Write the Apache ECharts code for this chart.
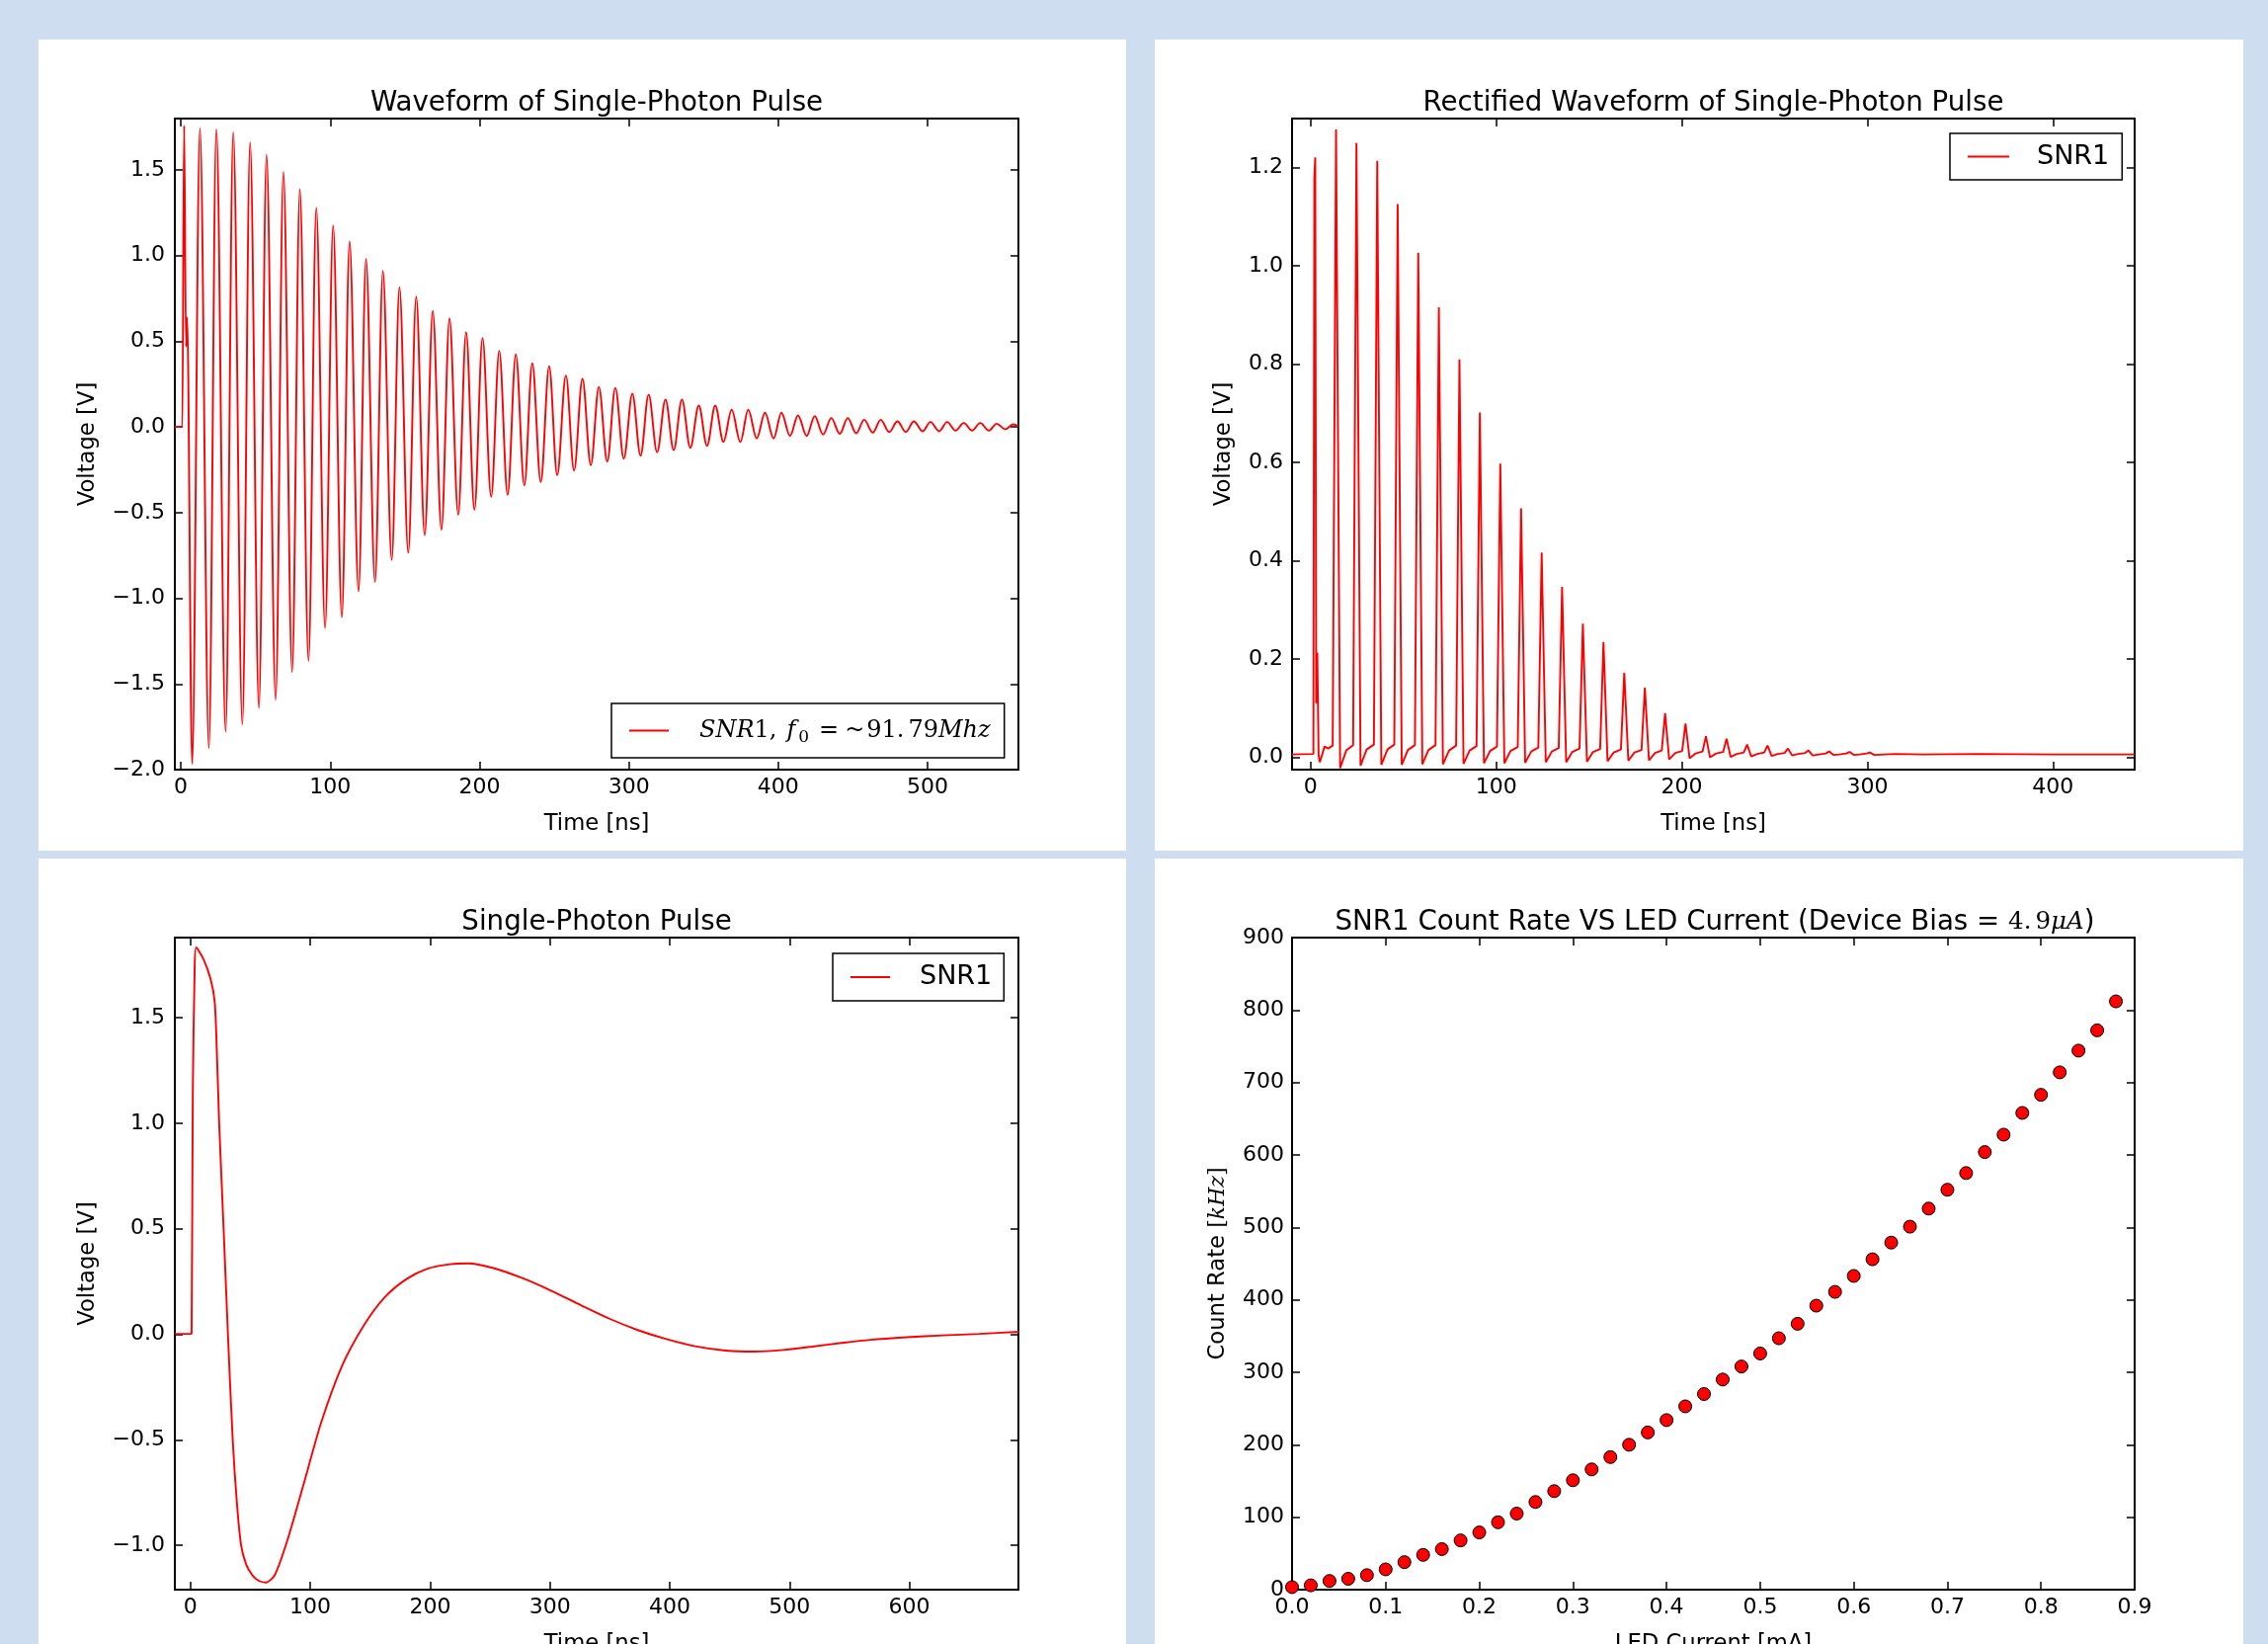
<!DOCTYPE html>
<html><head><meta charset="utf-8">
<script src="https://cdn.jsdelivr.net/npm/echarts@6/dist/echarts.min.js"></script>
<style>html,body{margin:0;padding:0;background:#cedef0;}#c{width:2296px;height:1664px;}</style>
</head><body><div id="c"></div>
<script>
// ===== Panel 1: Waveform of Single-Photon Pulse (time ns, voltage V) =====
const waveStart = [[-4,0.0],[1.0,0.0],[2.2,1.76],[3.5,0.47],[4.2,0.64]];
const wavePeaks = [[12.8,1.743],[23.8,1.739],[35.1,1.720],[46.4,1.660],[57.4,1.589],[68.7,1.487],[79.7,1.386],[90.7,1.278],[102.0,1.176],[113.0,1.084],[124.0,0.980],[135.3,0.911],[146.4,0.815],[157.6,0.761],[168.7,0.678],[179.9,0.634],[191.0,0.553],[202.0,0.519],[213.2,0.444],[224.3,0.424],[235.3,0.371],[246.6,0.355],[257.8,0.300],[268.9,0.282],[279.9,0.234],[290.9,0.228],[302.3,0.194],[313.2,0.189],[324.5,0.160],[335.5,0.160],[346.8,0.125],[357.8,0.125],[368.8,0.100],[379.9,0.100],[391.1,0.083],[402.1,0.083],[413.2,0.067],[424.4,0.063],[435.5,0.052],[446.5,0.052],[457.5,0.042],[468.6,0.042],[479.8,0.033],[490.8,0.033],[501.9,0.029],[513.1,0.029],[524.2,0.023],[535.2,0.023],[546.2,0.019],[557.3,0.015]];
const waveTroughs = [[7.6,-1.966],[18.8,-1.874],[30.0,-1.778],[41.2,-1.736],[52.3,-1.640],[63.5,-1.592],[74.5,-1.429],[85.5,-1.364],[96.6,-1.174],[107.8,-1.112],[119.0,-0.959],[130.0,-0.905],[141.2,-0.776],[152.3,-0.734],[163.3,-0.632],[174.5,-0.600],[185.7,-0.513],[196.6,-0.483],[207.8,-0.408],[218.8,-0.396],[230.0,-0.341],[241.0,-0.321],[252.0,-0.281],[263.3,-0.254],[274.5,-0.223],[285.5,-0.202],[296.6,-0.185],[307.8,-0.168],[318.9,-0.148],[330.0,-0.135],[341.1,-0.122],[352.3,-0.110],[363.3,-0.087],[374.6,-0.087],[385.6,-0.067],[396.9,-0.067],[407.9,-0.052],[419.0,-0.052],[430.0,-0.044],[441.2,-0.040],[452.2,-0.037],[463.3,-0.033],[474.3,-0.029],[485.4,-0.029],[496.7,-0.025],[507.7,-0.025],[518.7,-0.021],[529.8,-0.021],[541.0,-0.021],[552.0,-0.013]];
const waveEnd = [[560.8,0.005]];

// ===== Panel 2: Rectified Waveform =====
const rectStart = [[-10,0.006],[1.5,0.007],[2.0,1.18],[2.5,1.221],[3.0,0.11],[3.6,0.213],[4.3,0.005],[5.0,-0.010],[7.5,0.022],[9.5,0.018],[11.9,0.024]];
const rectPeaks = [[13.7,1.278],[24.7,1.250],[35.9,1.214],[46.9,1.126],[58.0,1.027],[69.1,0.916],[80.2,0.810],[91.2,0.702],[102.2,0.598],[113.4,0.507],[124.5,0.417],[135.5,0.347],[146.7,0.272],[157.8,0.235],[169.0,0.172],[180.1,0.142],[191.0,0.090],[202.0,0.069],[213.0,0.043],[224.1,0.038],[235.2,0.026],[246.2,0.024],[257.2,0.018],[268.3,0.014],[279.4,0.012],[290.4,0.011],[301.4,0.010]];
const rectDips = [[15.9,-0.022],[26.9,-0.017],[38.1,-0.015],[49.1,-0.015],[60.2,-0.014],[71.3,-0.014],[82.4,-0.013],[93.4,-0.012],[104.4,-0.012],[115.6,-0.011],[126.7,-0.010],[137.7,-0.010],[148.9,-0.009],[160.0,-0.008],[171.2,-0.007],[182.3,-0.006],[193.2,-0.004],[204.2,-0.002],[215.2,0.000],[226.3,0.001],[237.4,0.002],[248.4,0.003],[259.4,0.004],[270.5,0.004],[281.6,0.005],[292.6,0.005],[303.6,0.005]];
const rectKnees = [[19.2,0.014],[30.2,0.016],[41.4,0.016],[52.4,0.015],[63.5,0.015],[74.6,0.014],[85.7,0.014],[96.7,0.013],[107.7,0.013],[118.9,0.012],[130.0,0.012],[141.0,0.011],[152.2,0.011],[163.3,0.010],[174.5,0.010],[185.6,0.009],[196.5,0.009],[207.5,0.008],[218.5,0.008],[229.6,0.007],[240.7,0.007],[251.7,0.007],[262.7,0.007],[273.8,0.006],[284.9,0.006],[295.9,0.006]];
const rectShoulders = [[22.9,0.025],[34.1,0.026],[45.1,0.026],[56.2,0.025],[67.3,0.025],[78.4,0.024],[89.4,0.023],[100.4,0.022],[111.6,0.021],[122.7,0.020],[133.7,0.019],[144.9,0.018],[156.0,0.017],[167.2,0.016],[178.3,0.015],[189.2,0.014],[200.2,0.013],[211.2,0.012],[222.3,0.011],[233.4,0.010],[244.4,0.010],[255.4,0.009],[266.5,0.009],[277.6,0.008],[288.6,0.008],[299.6,0.008]];
const rectTail = [[315,0.007],[330,0.006],[360,0.007],[400,0.006],[444,0.006]];

// ===== Panel 3: Single-Photon Pulse =====
const pulse = [[-12.8,0.002],[0.0,0.002],[1.0,0.005],[2.0,1.15],[3.5,1.72],[4.8,1.833],[10.9,1.778],[16.9,1.682],[20.3,1.574],[22.0,1.35],[24.0,1.0],[27.7,0.5],[31.3,0.0],[35.3,-0.5],[38.8,-0.8],[42.3,-1.0],[46.5,-1.09],[51.5,-1.14],[57.0,-1.168],[63.0,-1.176],[70.5,-1.14],[81.0,-0.975],[94.0,-0.72],[109.0,-0.42],[126.5,-0.15],[144.5,0.040],[162.1,0.175],[180.3,0.262],[198.4,0.312],[216.6,0.332],[231.7,0.336],[252.9,0.314],[277.1,0.266],[301.3,0.206],[325.5,0.139],[349.7,0.074],[373.9,0.019],[398.0,-0.024],[422.3,-0.058],[446.5,-0.077],[470.7,-0.082],[494.9,-0.074],[519.0,-0.058],[543.3,-0.041],[567.5,-0.026],[597.7,-0.014],[628.0,-0.005],[658.2,0.002],[691.5,0.012]];

// ===== Panel 4: Count rate vs LED current =====
const ledCurrent = [0.00,0.02,0.04,0.06,0.08,0.10,0.12,0.14,0.16,0.18,0.20,0.22,0.24,0.26,0.28,0.30,0.32,0.34,0.36,0.38,0.40,0.42,0.44,0.46,0.48,0.50,0.52,0.54,0.56,0.58,0.60,0.62,0.64,0.66,0.68,0.70,0.72,0.74,0.76,0.78,0.80,0.82,0.84,0.86,0.88];
const countRate = [3.5,6,12,15,20,28,38,48,56,68,79,93,105,121,136,151,166,183,200,217,234,253,270,290,308,326,347,367,392,411,433,456,479,501,526,552,575,604,628,658,683,714,744,772,812];

// ===== Text =====
const titles = ['Waveform of Single-Photon Pulse','Rectified Waveform of Single-Photon Pulse','Single-Photon Pulse'];
const xNames = ['Time [ns]','Time [ns]','Time [ns]','LED Current [mA]'];

const FONT = "'DejaVu Sans', sans-serif";
const MATH = "'DejaVu Serif', serif";
const sortT = (a,b)=>a[0]-b[0];
const wave = waveStart.concat(wavePeaks, waveTroughs, waveEnd).sort(sortT);
const rect = rectStart.concat(rectPeaks, rectDips, rectKnees, rectShoulders, rectTail).sort(sortT);
const scatter = ledCurrent.map((x,i)=>[x,countRate[i]]);

const isMult = (v,iv)=>Math.abs(v/iv - Math.round(v/iv)) < 1e-6;
const f1 = v => { if (Math.abs(v)<1e-9) v=0; return v.toFixed(1).replace('-', '\u2212'); };
const f0 = v => String(Math.round(v));

const grids = [
  {left:177, top:120, width:854, height:659},
  {left:1308, top:120, width:853, height:659},
  {left:177, top:949, width:854, height:660},
  {left:1308, top:949, width:853, height:660}
].map(g=>Object.assign(g,{show:true, borderColor:'#000', borderWidth:2, backgroundColor:'transparent', containLabel:false, outerBoundsMode:'none'}));

const tick = {show:true, inside:true, length:8, lineStyle:{color:'#000', width:1.5}};
function axes(dim, gi, min, max, iv, fmt, name, nameGap, margin, nameRich) {
  const base = {type:'value', gridIndex:gi, min, max, minInterval:iv, maxInterval:iv,
    splitNumber:Math.round((max-min)/iv), axisLine:{show:false, onZero:false}, splitLine:{show:false}, axisTick:tick};
  const main = Object.assign({}, base, {
    position: dim==='x' ? 'bottom' : 'left',
    axisLabel:{show:true, color:'#000', fontFamily:FONT, fontSize:22, margin,
      formatter: v => isMult(v,iv) ? fmt(v) : ''},
    name, nameLocation:'middle', nameGap, nameMoveOverlap:false,
    nameTextStyle:{color:'#000', fontFamily:FONT, fontSize:22.7, rich: nameRich || {}}
  });
  const mirror = Object.assign({}, base, {position: dim==='x' ? 'top' : 'right', axisLabel:{show:false}});
  return [main, mirror];
}
const xAxis = [].concat(
  axes('x',0,-4,560.8,100,f0,xNames[0],43.5,7),
  axes('x',1,-10,444,100,f0,xNames[1],43.5,7),
  axes('x',2,-13,691,100,f0,xNames[2],43.5,7),
  axes('x',3,0,0.9,0.1,f1,xNames[3],43.5,7)
);
const yAxis = [].concat(
  axes('y',0,-2.0,1.8,0.5,f1,'Voltage [V]',76,10),
  axes('y',1,-0.025,1.3,0.2,f1,'Voltage [V]',57,9),
  axes('y',2,-1.21,1.88,0.5,f1,'Voltage [V]',76,10),
  axes('y',3,0,900,100,f0,'Count Rate {m|[}{mi|kHz}{m|]}',63,8,
    {m:{fontFamily:MATH, fontSize:22, color:'#000'}, mi:{fontFamily:MATH, fontStyle:'italic', fontSize:22, color:'#000'}})
);

const lineStyle = {color:'#ff0000', width:1.9};
const legName1 = 'SNR1, f0 = ~91.79Mhz';
const series = [
  {type:'line', name:legName1, xAxisIndex:0, yAxisIndex:0, data:wave, symbol:'none', smooth:0.35, smoothMonotone:'x', lineStyle, itemStyle:{color:'#ff0000'}, clip:true},
  {type:'line', name:'SNR1', xAxisIndex:2, yAxisIndex:2, data:rect, symbol:'none', smooth:false, lineStyle, itemStyle:{color:'#ff0000'}, clip:true},
  {type:'line', name:'SNR1', xAxisIndex:4, yAxisIndex:4, data:pulse, symbol:'none', smooth:0.25, lineStyle, itemStyle:{color:'#ff0000'}, clip:true},
  {type:'scatter', name:'Count Rate', xAxisIndex:6, yAxisIndex:6, data:scatter, symbol:'circle', symbolSize:13,
    itemStyle:{color:'#ff0000', borderColor:'#000', borderWidth:1, opacity:1}}
];

const mathRich = {
  i:{fontFamily:MATH, fontStyle:'italic', fontSize:24, color:'#000', lineHeight:30},
  r:{fontFamily:MATH, fontSize:24, color:'#000', lineHeight:30},
  s:{fontFamily:MATH, fontSize:17, color:'#000', lineHeight:30, padding:[15,0,0,3]},
  g26:{width:26, lineHeight:30}, w10:{width:10}, w6:{width:6}, w4:{width:4}, w2:{width:2}
};
const legBase = {orient:'horizontal', icon:'rect', itemHeight:2, borderColor:'#000', borderWidth:1.5, borderRadius:0,
  backgroundColor:'#fff', selectedMode:false, itemGap:0};
const legend = [
  Object.assign({}, legBase, {data:[legName1], left:619, top:712, padding:[11.5,14,11.5,18], itemWidth:40,
    formatter:()=>'{g26|}{i|SNR}{r|1,}{w10|}{i|f}{s|0}{w10|}{r|=}{w6|}{r|~}{w2|}{r|91.}{w4|}{r|79}{i|Mhz}',
    textStyle:{rich:mathRich}}),
  Object.assign({}, legBase, {data:['SNR1'], left:1974, top:135, padding:[10,13,10,18], itemWidth:42,
    formatter:n=>'{g|}{t|'+n+'}', textStyle:{rich:{g:{width:23}, t:{fontFamily:FONT, fontSize:27, color:'#000', lineHeight:27}}}}),
  Object.assign({}, legBase, {data:['SNR1'], left:843, top:965, padding:[10.5,12,10.5,18], itemWidth:40,
    formatter:n=>'{g|}{t|'+n+'}', textStyle:{rich:{g:{width:25}, t:{fontFamily:FONT, fontSize:27, color:'#000', lineHeight:27}}}})
];

const panelRects = [[39,40,1101,821],[1169,40,1102,821],[39,869,1101,795],[1169,869,1102,795]];
const titleStyle = (text, extra)=>Object.assign({text, fill:'#000', fontFamily:FONT, fontSize:27.7,
  align:'center', verticalAlign:'middle', textAlign:'center', textVerticalAlign:'middle'}, extra||{});
const graphic = panelRects.map(r=>({type:'rect', z:-10, silent:true, shape:{x:r[0],y:r[1],width:r[2],height:r[3]}, style:{fill:'#ffffff'}}))
 .concat([
  {type:'text', z:10, x:604, y:105, style:titleStyle(titles[0])},
  {type:'text', z:10, x:1734.5, y:105, style:titleStyle(titles[1])},
  {type:'text', z:10, x:604, y:933.5, style:titleStyle(titles[2])},
  {type:'text', z:10, x:1736, y:933.5, style:titleStyle('SNR1 Count Rate VS LED Current (Device Bias = {m|4.}{w|}{m|9}{mi|\u03bcA}{p|)}', {
    rich:{m:{fontFamily:MATH, fontSize:24.5, fill:'#000', color:'#000'}, mi:{fontFamily:MATH, fontStyle:'italic', fontSize:24.5, fill:'#000', color:'#000'},
      w:{width:4}, p:{fontFamily:FONT, fontSize:27.7, fill:'#000', color:'#000'}}})}
 ]);

const chart = echarts.init(document.getElementById('c'), null, {renderer:'canvas', width:2296, height:1664});
chart.setOption({
  backgroundColor:'#cedef0',
  animation:false,
  textStyle:{fontFamily:FONT},
  grid:grids, xAxis, yAxis, series, legend, graphic
});
</script></body></html>
